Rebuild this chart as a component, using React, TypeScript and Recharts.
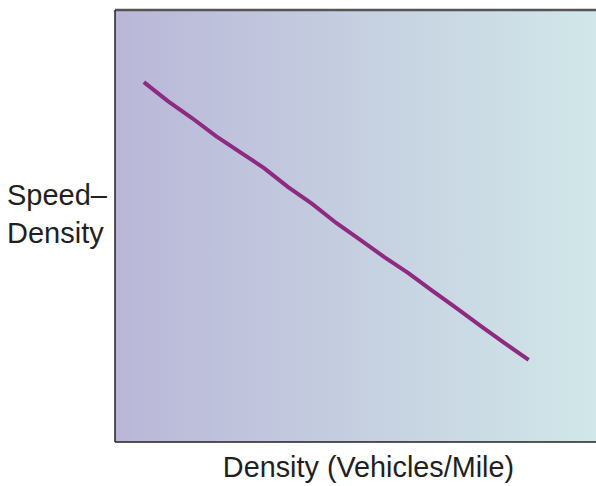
import { LineChart, Line, XAxis, YAxis, ReferenceArea, ReferenceLine } from 'recharts'

// density (arbitrary units along the axis) and speed-density value at each vertex
const densities = [6, 11, 16, 21, 26, 31, 36, 41, 46, 51, 56, 61, 66, 71, 76, 81, 86]
const speedDensity = [83.3, 78.9, 75.0, 70.8, 67.1, 63.4, 59.0, 55.1, 50.7, 46.8, 42.8, 39.1, 35.0, 31.0, 26.9, 22.9, 19.0]

const yLabelLines = ['Speed–', 'Density']
const xLabel = 'Density (Vehicles/Mile)'

const data = densities.map((d, i) => ({ density: d, value: speedDensity[i] }))

const textColor = '#231f20'
const font = '"Liberation Sans", Arial, Helvetica, sans-serif'

export default function App() {
  return (
    <div style={{ position: 'absolute', left: 0, top: 0 }}>
      <LineChart width={596} height={486} data={data} margin={{ top: 10, right: 0, bottom: 0, left: 0 }}>
        <defs>
          <linearGradient id="bg" x1="0" y1="0" x2="1" y2="0">
            <stop offset="0%" stopColor="#b9b7d8" />
            <stop offset="50%" stopColor="#c5cfe0" />
            <stop offset="100%" stopColor="#d1e7e9" />
          </linearGradient>
        </defs>
        <XAxis
          type="number"
          dataKey="density"
          domain={[0, 100]}
          height={44}
          tick={false}
          tickLine={false}
          axisLine={{ stroke: textColor, strokeWidth: 1.5 }}
          label={{
            content: () => (
              <text x={368.5} y={477} textAnchor="middle" fill={textColor} fontSize={28.8} fontFamily={font}>
                {xLabel}
              </text>
            ),
          }}
        />
        <YAxis
          type="number"
          domain={[0, 100]}
          width={115}
          tick={false}
          tickLine={false}
          axisLine={{ stroke: textColor, strokeWidth: 1.5 }}
          label={{
            content: () => (
              <text fill={textColor} fontSize={29} fontFamily={font}>
                {yLabelLines.map((line, i) => (
                  <tspan key={line} x={7} y={205 + i * 38}>
                    {line}
                  </tspan>
                ))}
              </text>
            ),
          }}
        />
        <ReferenceArea x1={0} x2={100} y1={0} y2={100} fill="url(#bg)" fillOpacity={1} stroke="none" />
        <ReferenceLine y={100} stroke="#555555" strokeWidth={2.5} ifOverflow="visible" />
        <Line
          type="linear"
          dataKey="value"
          stroke="#8e2a7f"
          strokeWidth={4}
          dot={false}
          isAnimationActive={false}
        />
      </LineChart>
    </div>
  )
}
